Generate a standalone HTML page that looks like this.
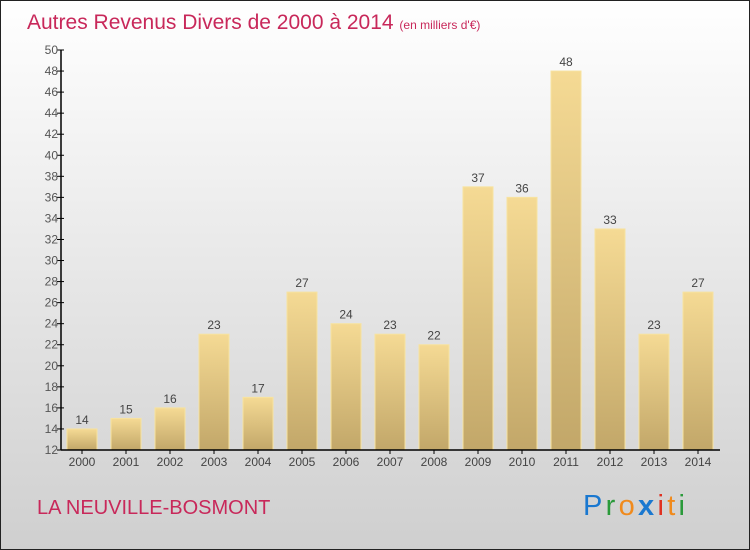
<!DOCTYPE html>
<html><head><meta charset="utf-8"><style>
body{margin:0}
svg{display:block;font-family:"Liberation Sans",sans-serif}
</style></head><body>
<svg width="750" height="550">
<defs>
<linearGradient id="bg" x1="0" y1="0" x2="0" y2="1"><stop offset="0" stop-color="#ffffff"/><stop offset="1" stop-color="#cfcfcf"/></linearGradient>
<linearGradient id="bar" x1="0" y1="0" x2="0" y2="1"><stop offset="0" stop-color="#f5da94"/><stop offset="1" stop-color="#c2a769"/></linearGradient>
</defs>
<rect x="0.5" y="0.5" width="749" height="549" fill="url(#bg)" stroke="#222"/>
<text x="27" y="29" font-size="21" fill="#c8285a">Autres Revenus Divers de 2000 à 2014 <tspan font-size="12">(en milliers d'€)</tspan></text>
<g id="plot"></g>
<text x="37" y="514" font-size="20" fill="#c8285a">LA NEUVILLE-BOSMONT</text>
<text x="583" y="515" font-size="29" textLength="102"><tspan fill="#1a78d0">P</tspan><tspan fill="#2a9a3a">r</tspan><tspan fill="#f08a1c">o</tspan><tspan fill="#1a78d0" font-weight="bold">x</tspan><tspan fill="#e03020">i</tspan><tspan fill="#f08a1c">t</tspan><tspan fill="#2a9a3a">i</tspan></text>
</svg>
<script>
const categories=["2000","2001","2002","2003","2004","2005","2006","2007","2008","2009","2010","2011","2012","2013","2014"];
const values=[14,15,16,23,17,27,24,23,22,37,36,48,33,23,27];
const yTicks=[12,14,16,18,20,22,24,26,28,30,32,34,36,38,40,42,44,46,48,50];
const yMin=12,yMax=50,plotTop=50,plotBot=450,axisLeft=61,band=44,x0=60;
const yS=v=>plotBot-(v-yMin)/(yMax-yMin)*(plotBot-plotTop);
const xc=i=>x0+band/2+i*band;
const g=document.getElementById('plot');
const ns='http://www.w3.org/2000/svg';
function mk(t,a,txt){const e=document.createElementNS(ns,t);for(const k in a)e.setAttribute(k,a[k]);if(txt!=null)e.textContent=txt;g.appendChild(e);return e;}
values.forEach((v,i)=>{
 const r=mk('rect',{x:xc(i)-15,y:yS(v),width:30,height:plotBot-yS(v),fill:'url(#bar)',stroke:'#f7e3a0','stroke-width':1});
 
 
 const t=mk('text',{x:xc(i),y:yS(v)-5,'text-anchor':'middle','font-size':12,fill:'#444'},v);
 
 
 const c=mk('text',{x:xc(i),y:plotBot+16,'text-anchor':'middle','font-size':12,fill:'#444'},categories[i]);
 
 
 mk('line',{x1:xc(i),x2:xc(i),y1:plotBot,y2:plotBot+4,stroke:'#000'});
});
yTicks.forEach(v=>{
 mk('line',{x1:axisLeft-4,x2:axisLeft+3,y1:yS(v),y2:yS(v),stroke:'#000'});
 const t=mk('text',{x:axisLeft-3,y:yS(v)+4,'text-anchor':'end','font-size':12,fill:'#555'},v);
 
 
});
const ya=mk('line',{x1:axisLeft,x2:axisLeft,y1:plotTop,y2:plotBot,stroke:'#000','stroke-width':1.5});


const xa=mk('line',{x1:axisLeft,x2:720,y1:plotBot,y2:plotBot,stroke:'#000','stroke-width':1.5});


</script>
</body></html>
